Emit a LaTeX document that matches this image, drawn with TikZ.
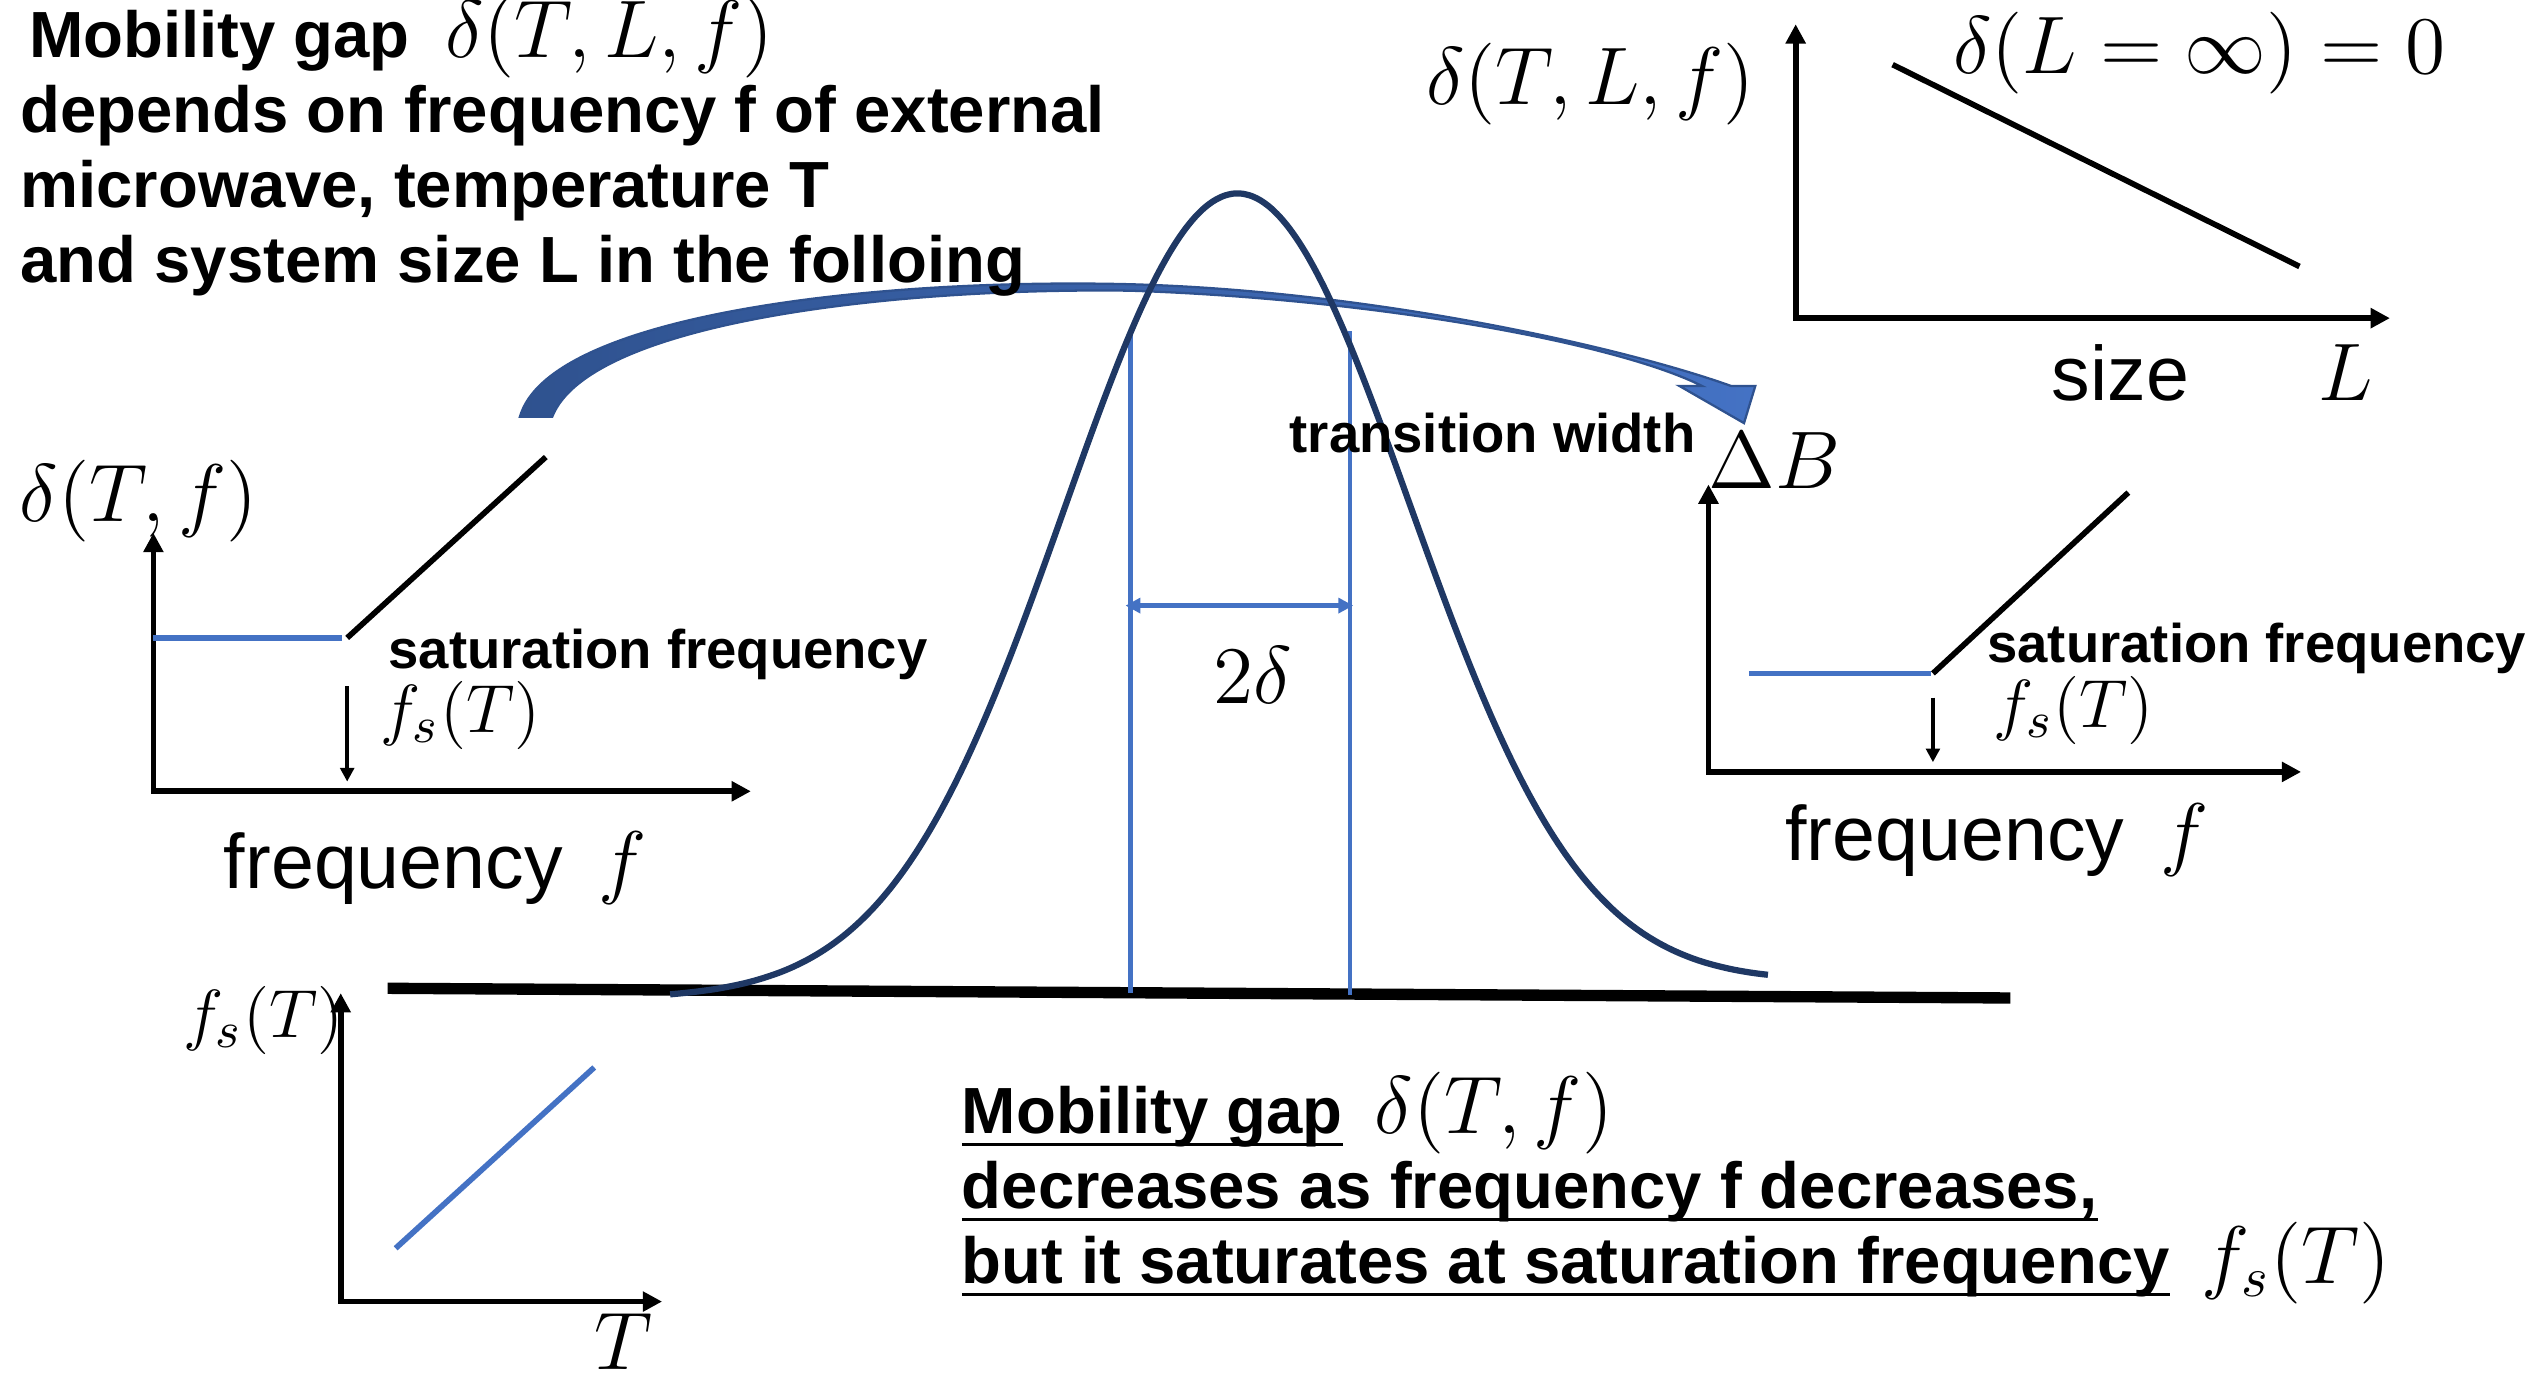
\documentclass[tikz,border=0pt]{standalone}
\usepackage{fontspec}
\setmainfont{Liberation Sans}
\usetikzlibrary{arrows.meta, positioning}
\definecolor{lineblue}{HTML}{4472C4}
\definecolor{navy}{HTML}{1F3864}
\definecolor{arrowedge}{HTML}{2F528F}
\newcommand{\eqbig}[1]{{\fontsize{14.5}{13.2}\selectfont$#1$}}
\newcommand{\tightlines}{\lineskiplimit=-20pt\relax}
\newcommand{\undl}[1]{\setbox0\hbox{#1}\rlap{\rule[-2.1pt]{\wd0}{0.5pt}}\box0}

\begin{document}
\begin{tikzpicture}[
  head/.style={inner sep=0pt, align=left, font=\bfseries\fontsize{11.5}{13.2}\selectfont\tightlines},
  note/.style={inner sep=0pt, font=\bfseries\fontsize{9.6}{11.5}\selectfont},
  axtxt/.style={inner sep=0pt, font=\fontsize{13.6}{16}\selectfont},
  eq/.style={inner sep=0pt, font=\fontsize{14.5}{17}\selectfont},
  eqs/.style={inner sep=0pt, font=\fontsize{13}{15}\selectfont},
  axes/.style={line width=1pt, {Triangle[length=3.4pt,width=3.4pt]}-{Triangle[length=3.4pt,width=3.4pt]}},
  fsarr/.style={line width=0.6pt, -{Triangle[length=2.4pt,width=2.4pt]}},
  sat/.style={lineblue, line width=1pt},
  slope/.style={line width=1pt}
]
  \useasboundingbox (0,0) rectangle (15.68,-8.53);

  % curved arrow behind everything
  \path[draw=arrowedge, line width=0.4pt, left color=arrowedge, right color=lineblue]
    (3.22,-2.58) .. controls (3.40,-1.95) and (5.40,-1.72) .. (7.00,-1.76)
    .. controls (8.50,-1.80) and (10.05,-2.15) .. (10.72,-2.39)
    -- (10.87,-2.39) -- (10.80,-2.62) -- (10.40,-2.39) -- (10.54,-2.39)
    .. controls (10.00,-2.12) and (8.50,-1.85) .. (7.00,-1.80)
    .. controls (5.50,-1.78) and (3.65,-2.00) .. (3.42,-2.58) -- cycle;

  % texts (base = last line)
  \node[head, anchor=base west](ttl) at (0.12,-1.75)
    {\hspace*{1.5pt}Mobility gap\hspace{0.22cm}\eqbig{\delta(T,L,f)}\\
     depends on frequency f of external\\
     microwave, temperature T\\
     and system size L in the folloing};
  \node[head, anchor=base west](res) at (5.95,-7.95)
    {\undl{Mobility gap}\hspace{0.2cm}\eqbig{\delta(T,f)}\\
     \undl{decreases as frequency f decreases,}\\
     \undl{but it saturates at saturation frequency}\hspace{0.2cm}\eqbig{f_s(T)}};

  % bell curve and width
  \draw[line width=2pt] (2.40,-6.12) -- (12.45,-6.18);
  \draw[lineblue, line width=0.8pt] (7.00,-2.05) -- (7.00,-6.15);
  \draw[lineblue, line width=0.8pt] (8.36,-2.05) -- (8.36,-6.16);
  \draw[navy, line width=1.1pt] plot[domain=4.15:10.95, samples=120, smooth]
    (\x, {-6.18+0.0147*(\x-4.15)+4.93*exp(-((\x-7.66)^2)/2.29)});
  \coordinate (wl) at (6.97,-3.75);
  \coordinate (wr) at (8.38,-3.75);
  \draw[lineblue, line width=0.9pt, {Triangle[length=2.6pt,width=2.6pt]}-{Triangle[length=2.6pt,width=2.6pt]}] (wl) -- (wr);
  \node[eq](wd) at (7.76,-4.18) {$2\delta$};
  \node[note, anchor=base west](tw) at (7.98,-2.80) {transition width};

  % delta versus size
  \coordinate (sy) at (11.12,-0.15);
  \coordinate (sx) at (14.80,-1.97);
  \draw[axes] (sy) |- (sx);
  \draw[slope] (11.72,-0.40) -- (14.24,-1.65);
  \node[eq](sdl) at (9.85,-0.52) {$\delta(T,L,f)$};
  \node[eq](sinf) at (13.62,-0.33) {$\delta(L=\infty)=0$};
  \node[axtxt, anchor=base west](ssz) at (12.70,-2.48) {size\hspace{0.8cm}\eqbig{L}};

  % delta versus frequency, left
  \coordinate (ly) at (0.95,-3.30);
  \coordinate (lx) at (4.65,-4.90);
  \draw[axes] (ly) |- (lx);
  \draw[sat] (0.95,-3.95) -- (2.12,-3.95);
  \draw[slope] (2.15,-3.95) -- (3.38,-2.83);
  \coordinate (lf0) at (2.15,-4.25);
  \coordinate (lf1) at (2.15,-4.84);
  \draw[fsarr] (lf0) -- (lf1);
  \node[eq](ldl) at (0.86,-3.10) {$\delta(T,f)$};
  \node[note, anchor=base west](lsat) at (2.40,-4.14) {saturation frequency};
  \node[eqs](lfs) at (2.85,-4.43) {$f_s(T)$};
  \node[axtxt, anchor=base west](lfq) at (1.38,-5.50) {frequency\hspace{0.22cm}\eqbig{f}};

  % transition width versus frequency, right
  \coordinate (ry) at (10.58,-3.00);
  \coordinate (rx) at (14.25,-4.78);
  \draw[axes] (ry) |- (rx);
  \draw[sat] (10.83,-4.17) -- (11.96,-4.17);
  \draw[slope] (11.97,-4.17) -- (13.18,-3.05);
  \coordinate (rf0) at (11.97,-4.32);
  \coordinate (rf1) at (11.97,-4.72);
  \draw[fsarr] (rf0) -- (rf1);
  \node[eq](rdb) at (10.99,-2.85) {$\Delta B$};
  \node[note, anchor=base west](rsat) at (12.30,-4.10) {saturation frequency};
  \node[eqs](rfs) at (12.84,-4.40) {$f_s(T)$};
  \node[axtxt, anchor=base west](rfq) at (11.05,-5.33) {frequency\hspace{0.22cm}\eqbig{f}};

  % saturation frequency versus temperature
  \coordinate (ty) at (2.11,-6.15);
  \coordinate (tx) at (4.10,-8.06);
  \draw[axes] (ty) |- (tx);
  \draw[sat] (2.45,-7.73) -- (3.68,-6.61);
  \node[eqs](tfs) at (1.63,-6.32) {$f_s(T)$};
  \node[eq](tt) at (3.86,-8.31) {$T$};
\end{tikzpicture}
\end{document}
